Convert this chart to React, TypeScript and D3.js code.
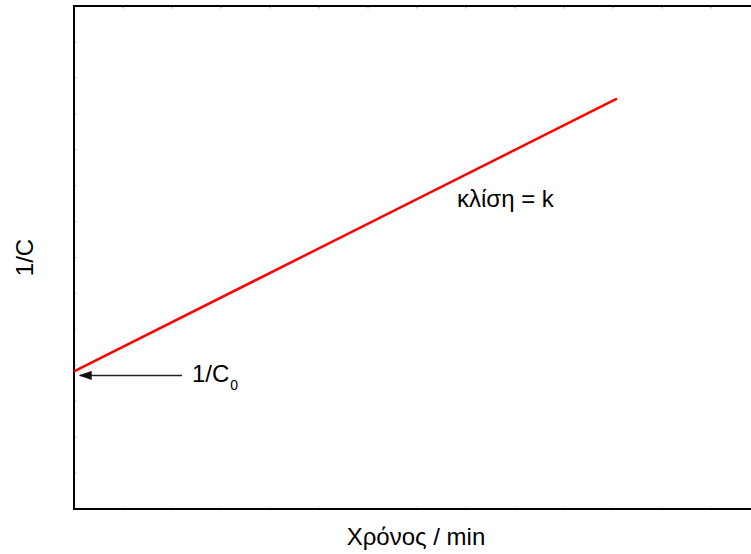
import React, { useEffect, useRef } from 'react';
import * as d3 from 'd3';

// line 1/C = 1/C0 + k t (axis units)
const time = [0, 11.08];
const invC = [3.83, 11.42];
const xTicks = d3.range(0, 15);
const yTicks = d3.range(0, 15);
const xLabel = 'Χρόνος / min';
const yLabel = '1/C';
const slopeLabel = 'κλίση = k';

export default function App() {
  const ref = useRef<SVGSVGElement>(null);

  useEffect(() => {
    const height = 554;
    const m = { top: 6, left: 74, bottom: 45 };
    const font = 'Liberation Sans, Arial, sans-serif';

    const svg = d3.select(ref.current);
    svg.selectAll('*').remove();

    const x = d3.scaleLinear().domain([0, 14]).range([m.left, m.left + 14 * 49]);
    const y = d3.scaleLinear().domain([0, 14]).range([height - m.bottom, m.top]);

    svg.append('defs')
      .append('marker')
      .attr('id', 'arrow')
      .attr('viewBox', '0 0 10 10')
      .attr('preserveAspectRatio', 'none')
      .attr('refX', 9)
      .attr('refY', 5)
      .attr('markerWidth', 13)
      .attr('markerHeight', 9)
      .attr('markerUnits', 'userSpaceOnUse')
      .attr('orient', 'auto')
      .append('path')
      .attr('d', 'M10,5 L0,0 L0,10 Z')
      .attr('fill', '#111');

    // faint inner ticks
    svg.selectAll('.xt')
      .data(xTicks)
      .enter()
      .append('line')
      .attr('x1', d => x(d)).attr('x2', d => x(d))
      .attr('y1', y(14)).attr('y2', y(14) + 2.5)
      .attr('stroke', '#999').attr('stroke-width', 1);
    svg.selectAll('.xb')
      .data(xTicks)
      .enter()
      .append('line')
      .attr('x1', d => x(d)).attr('x2', d => x(d))
      .attr('y1', y(0)).attr('y2', y(0) - 2.5)
      .attr('stroke', '#ddd').attr('stroke-width', 1);
    svg.selectAll('.yt')
      .data(yTicks)
      .enter()
      .append('line')
      .attr('x1', x(0)).attr('x2', x(0) + 2.5)
      .attr('y1', d => y(d)).attr('y2', d => y(d))
      .attr('stroke', '#bbb').attr('stroke-width', 1);

    // frame
    svg.append('rect')
      .attr('x', x(0))
      .attr('y', y(14))
      .attr('width', x(14) - x(0))
      .attr('height', y(0) - y(14))
      .attr('fill', 'none')
      .attr('stroke', '#000')
      .attr('stroke-width', 2);

    // the line
    const line = d3.line<number>()
      .x((d, i) => x(time[i]))
      .y(d => y(d));
    svg.append('path')
      .datum(invC)
      .attr('d', line)
      .attr('fill', 'none')
      .attr('stroke', '#ff0000')
      .attr('stroke-width', 2.5);

    // arrow pointing to intercept
    const ay = y(invC[0]) + 4;
    svg.append('line')
      .attr('x1', x(0) + 108)
      .attr('x2', x(0) + 6)
      .attr('y1', ay)
      .attr('y2', ay)
      .attr('stroke', '#222')
      .attr('stroke-width', 1.5)
      .attr('marker-end', 'url(#arrow)');

    const c0 = svg.append('text')
      .attr('x', x(0) + 118)
      .attr('y', ay + 7)
      .attr('font-family', font)
      .attr('font-size', 24)
      .attr('fill', '#000');
    c0.append('tspan').text('1/C');
    c0.append('tspan').attr('dx', 1).attr('dy', 8).attr('font-size', 14).text('0');

    svg.append('text')
      .attr('x', 457)
      .attr('y', 207)
      .attr('font-family', font)
      .attr('font-size', 24)
      .attr('fill', '#000')
      .text(slopeLabel);

    svg.append('text')
      .attr('x', 416)
      .attr('y', 545)
      .attr('text-anchor', 'middle')
      .attr('font-family', font)
      .attr('font-size', 24)
      .attr('fill', '#000')
      .text(xLabel);

    svg.append('text')
      .attr('transform', `translate(33,${y(7)}) rotate(-90)`)
      .attr('text-anchor', 'middle')
      .attr('font-family', font)
      .attr('font-size', 24)
      .attr('fill', '#000')
      .text(yLabel);
  }, []);

  return (
    <svg
      ref={ref}
      width={751}
      height={554}
      style={{ position: 'absolute', left: 0, top: 0, background: '#fff' }}
    />
  );
}
